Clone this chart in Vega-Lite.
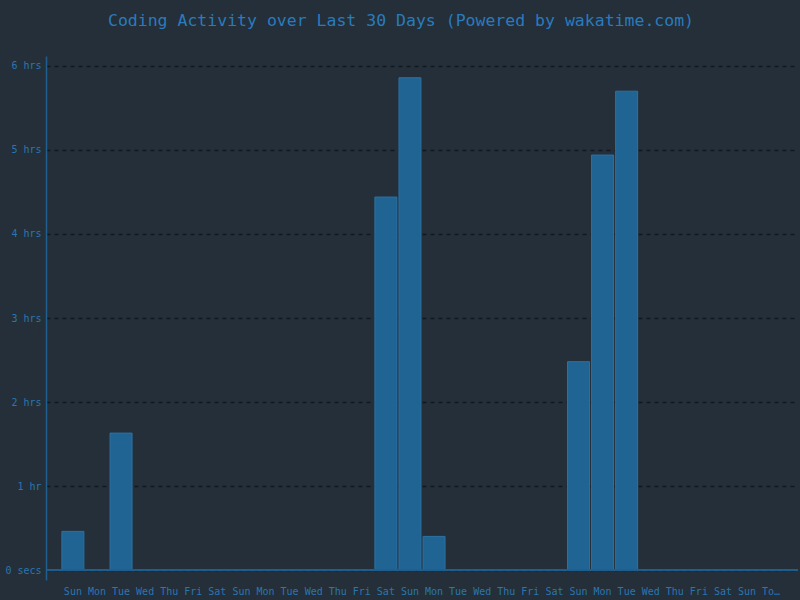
{
  "$schema": "https://vega.github.io/schema/vega-lite/v6.json",
  "autosize": {"type": "none"},
  "width": 752,
  "height": 524,
  "padding": {"left": 46, "top": 56, "right": 2, "bottom": 20},
  "background": "#242f39",
  "title": {
    "text": "Coding Activity over Last 30 Days (Powered by wakatime.com)",
    "font": "DejaVu Sans Mono",
    "fontSize": 16.5,
    "fontWeight": "normal",
    "color": "#2a7bbd",
    "anchor": "middle",
    "dx": -21,
    "offset": 27
  },
  "data": {
    "values": [
      {"idx": 1, "hours": 0.46},
      {"idx": 2, "hours": 0},
      {"idx": 3, "hours": 1.63},
      {"idx": 4, "hours": 0},
      {"idx": 5, "hours": 0},
      {"idx": 6, "hours": 0},
      {"idx": 7, "hours": 0},
      {"idx": 8, "hours": 0},
      {"idx": 9, "hours": 0},
      {"idx": 10, "hours": 0},
      {"idx": 11, "hours": 0},
      {"idx": 12, "hours": 0},
      {"idx": 13, "hours": 0},
      {"idx": 14, "hours": 4.44},
      {"idx": 15, "hours": 5.86},
      {"idx": 16, "hours": 0.4},
      {"idx": 17, "hours": 0},
      {"idx": 18, "hours": 0},
      {"idx": 19, "hours": 0},
      {"idx": 20, "hours": 0},
      {"idx": 21, "hours": 0},
      {"idx": 22, "hours": 2.48},
      {"idx": 23, "hours": 4.94},
      {"idx": 24, "hours": 5.7},
      {"idx": 25, "hours": 0},
      {"idx": 26, "hours": 0},
      {"idx": 27, "hours": 0},
      {"idx": 28, "hours": 0},
      {"idx": 29, "hours": 0},
      {"idx": 30, "hours": 0}
    ]
  },
  "layer": [
    {
      "mark": {"type": "bar", "fill": "#1f6492", "stroke": "#2d71a3", "strokeWidth": 1},
      "encoding": {
        "x": {
          "field": "idx",
          "type": "ordinal",
          "scale": {"paddingInner": 0.086, "paddingOuter": 0.66},
          "axis": {
            "title": null,
            "domain": false,
            "ticks": false,
            "grid": false,
            "labelAngle": 0,
            "labelOverlap": false,
            "labelPadding": 6,
            "labelFont": "DejaVu Sans Mono",
            "labelFontSize": 10,
            "labelColor": "#2a76b1",
            "labelLimit": 22,
            "labelExpr": "['Sun','Mon','Tue','Wed','Thu','Fri','Sat','Sun','Mon','Tue','Wed','Thu','Fri','Sat','Sun','Mon','Tue','Wed','Thu','Fri','Sat','Sun','Mon','Tue','Wed','Thu','Fri','Sat','Sun','Today'][datum.value - 1]"
          }
        },
        "y": {
          "field": "hours",
          "type": "quantitative",
          "scale": {"domain": [-0.119, 6.119], "nice": false, "zero": false},
          "axis": {
            "title": null,
            "values": [0, 1, 2, 3, 4, 5, 6],
            "labelExpr": "datum.value == 0 ? '0 secs' : (datum.value == 1 ? '1 hr' : datum.value + ' hrs')",
            "labelFont": "DejaVu Sans Mono",
            "labelFontSize": 10,
            "labelColor": "#2a76b1",
            "labelPadding": 5,
            "ticks": false,
            "domain": true,
            "domainColor": "#1f5f8f",
            "domainWidth": 1.5,
            "grid": true,
            "gridColor": "#111820",
            "gridDash": [4, 4],
            "gridWidth": 1.5
          }
        },
        "y2": {"datum": 0}
      }
    },
    {
      "mark": {"type": "rule", "color": "#1f5f8f", "strokeWidth": 1.5},
      "encoding": {"y": {"datum": 0}}
    }
  ],
  "config": {"view": {"stroke": null}}
}
